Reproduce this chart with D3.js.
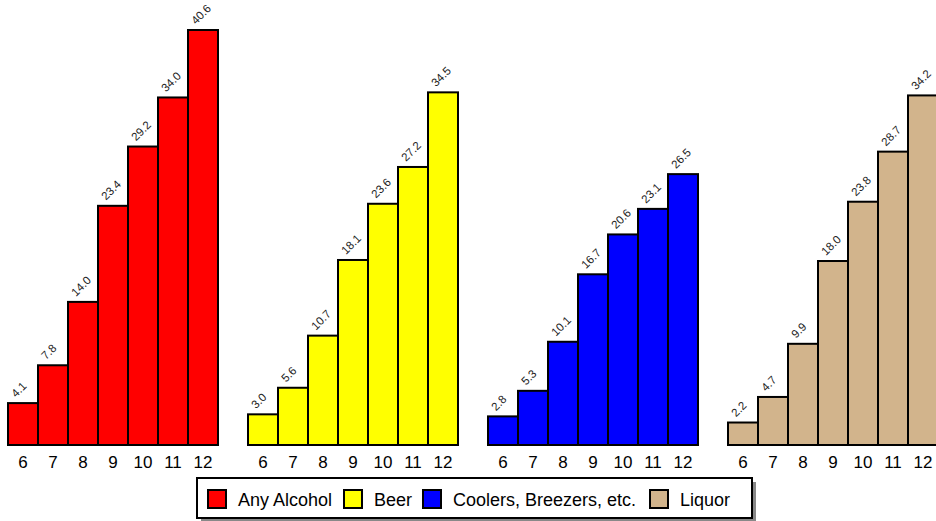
<!DOCTYPE html>
<html>
<head>
<meta charset="utf-8">
<script src="https://cdn.jsdelivr.net/npm/d3@7"></script>
<style>
  html, body { margin: 0; padding: 0; background: #fff; overflow: hidden; }
  svg { display: block; font-family: "Liberation Sans", Arial, sans-serif; }
</style>
</head>
<body>
<svg id="chart" width="936" height="521"></svg>
<script>
// Grades shown along each group's axis
const grades = ["6", "7", "8", "9", "10", "11", "12"];

// Percentage values per beverage type, by grade
const anyAlcohol = [4.1, 7.8, 14.0, 23.4, 29.2, 34.0, 40.6];
const beer       = [3.0, 5.6, 10.7, 18.1, 23.6, 27.2, 34.5];
const coolers    = [2.8, 5.3, 10.1, 16.7, 20.6, 23.1, 26.5];
const liquor     = [2.2, 4.7, 9.9, 18.0, 23.8, 28.7, 34.2];

const seriesNames  = ["Any Alcohol", "Beer", "Coolers, Breezers, etc.", "Liquor"];
const seriesColors = ["#ff0000", "#ffff00", "#0000ff", "#d2b48c"];

const series = [anyAlcohol, beer, coolers, liquor].map((values, i) => ({
  name: seriesNames[i], color: seriesColors[i], values
}));

const svg = d3.select("#chart");

const baseline = 445;
const y = d3.scaleLinear().domain([0, 40.6]).range([baseline, 30]);

// Each beverage type gets its own block of bars
const groupX = d3.scaleBand().domain(seriesNames).range([8, 938]).paddingInner(0.125).paddingOuter(0);
const barX = d3.scaleBand().domain(grades).range([0, groupX.bandwidth()]).padding(0);

const groups = svg.selectAll("g.group")
  .data(series)
  .join("g")
  .attr("class", "group")
  .attr("transform", d => `translate(${groupX(d.name)},0)`);

groups.selectAll("rect.bar")
  .data(d => d.values.map((v, i) => ({ v, grade: grades[i], color: d.color })))
  .join("rect")
  .attr("class", "bar")
  .attr("x", d => barX(d.grade))
  .attr("y", d => y(d.v))
  .attr("width", barX.bandwidth())
  .attr("height", d => baseline - y(d.v))
  .attr("fill", d => d.color)
  .attr("stroke", "#000")
  .attr("stroke-width", 2);

// Value labels, tilted above each bar
groups.selectAll("text.value")
  .data(d => d.values.map((v, i) => ({ v, grade: grades[i] })))
  .join("text")
  .attr("class", "value")
  .attr("transform", d => `translate(${barX(d.grade) + 8},${y(d.v) - 5}) rotate(-45)`)
  .attr("font-size", 11.5)
  .attr("fill", "#222")
  .text(d => d.v.toFixed(1));

// Grade axis under each group
groups.each(function () {
  const g = d3.select(this).append("g")
    .attr("transform", `translate(0,${baseline})`)
    .call(d3.axisBottom(barX).tickSize(0).tickPadding(11));
  g.select(".domain").remove();
  g.selectAll("text")
    .attr("font-size", 17)
    .attr("font-family", "Liberation Sans, Arial, sans-serif")
    .attr("fill", "#000");
});

// Legend with drop shadow
const legend = svg.append("g").attr("transform", "translate(197,478)");
const lw = 555, lh = 40;
legend.append("rect")
  .attr("x", 4).attr("y", 4).attr("width", lw).attr("height", lh)
  .attr("fill", "#888");
legend.append("rect")
  .attr("x", 0).attr("y", 0).attr("width", lw).attr("height", lh)
  .attr("fill", "#fff").attr("stroke", "#000").attr("stroke-width", 2);

const itemX = [11, 147, 226, 453];
const items = legend.selectAll("g.item")
  .data(series)
  .join("g")
  .attr("class", "item")
  .attr("transform", (d, i) => `translate(${itemX[i]},12)`);
items.append("rect")
  .attr("width", 18).attr("height", 18)
  .attr("fill", d => d.color)
  .attr("stroke", "#000").attr("stroke-width", 2);
items.append("text")
  .attr("x", 30).attr("y", 16)
  .attr("font-size", 18)
  .attr("fill", "#000")
  .text(d => d.name);
</script>
</body>
</html>
